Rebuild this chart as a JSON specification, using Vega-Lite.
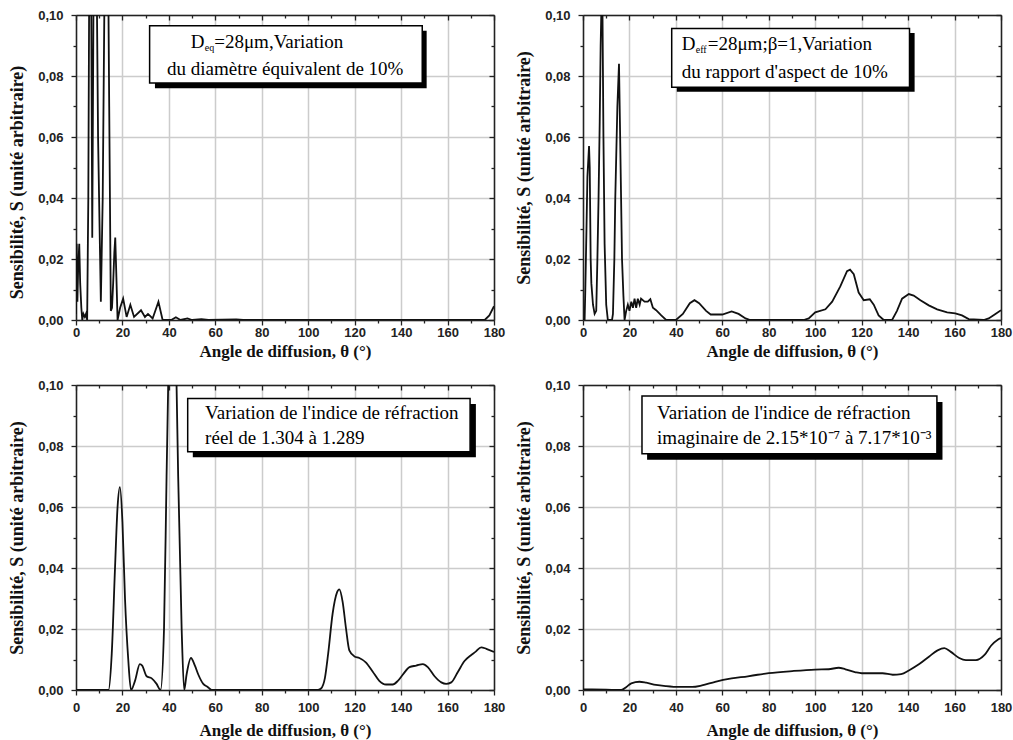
{
  "$schema": "https://vega.github.io/schema/vega-lite/v6.json",
  "background": "white",
  "padding": {"top": 9, "left": 8, "right": 5, "bottom": 5},
  "columns": 2,
  "spacing": {"row": 20, "column": 10},
  "datasets": {
    "p1": [{"t":0,"s":0.002},{"t":0.3,"s":0.025},{"t":0.6,"s":0.006},{"t":0.9,"s":0.016},{"t":1.4,"s":0.025},{"t":1.8,"s":0.012},{"t":2.3,"s":0.004},{"t":2.7,"s":0},{"t":3.2,"s":0.002},{"t":3.8,"s":0.001},{"t":4.3,"s":0.002},{"t":4.8,"s":0},{"t":5.3,"s":0.04},{"t":5.8,"s":0.13},{"t":6.4,"s":0.13},{"t":7.0,"s":0.027},{"t":7.5,"s":0.1},{"t":8.0,"s":0.16},{"t":8.7,"s":0.13},{"t":9.5,"s":0.06},{"t":10.7,"s":0.006},{"t":11.5,"s":0.04},{"t":12.3,"s":0.11},{"t":13.0,"s":0.15},{"t":13.8,"s":0.12},{"t":14.3,"s":0.07},{"t":15.0,"s":0.003},{"t":15.5,"s":0.004},{"t":16.0,"s":0.012},{"t":16.5,"s":0.022},{"t":16.9,"s":0.027},{"t":17.4,"s":0.014},{"t":17.9,"s":0},{"t":19.0,"s":0.004},{"t":20.3,"s":0.007},{"t":21.8,"s":0.001},{"t":23.4,"s":0.005},{"t":25.0,"s":0.001},{"t":28.0,"s":0.0032},{"t":29.7,"s":0.001},{"t":31.0,"s":0.002},{"t":33.0,"s":0.0005},{"t":35.5,"s":0.006},{"t":37.3,"s":0},{"t":41,"s":0},{"t":43,"s":0.0009},{"t":45,"s":0},{"t":48,"s":0.0005},{"t":50,"s":0},{"t":54,"s":0.0003},{"t":57,"s":0},{"t":69,"s":0.0002},{"t":72,"s":0},{"t":176,"s":0},{"t":178,"s":0.0015},{"t":180,"s":0.0045}],
    "p2": [{"t":0,"s":0},{"t":0.7,"s":0},{"t":1.0,"s":0.01},{"t":1.5,"s":0.03},{"t":1.9,"s":0.047},{"t":2.6,"s":0.057},{"t":2.9,"s":0.05},{"t":3.3,"s":0.02},{"t":3.6,"s":0.012},{"t":4.3,"s":0.005},{"t":5.0,"s":0.002},{"t":5.7,"s":0.003},{"t":6.2,"s":0.02},{"t":6.7,"s":0.04},{"t":7.2,"s":0.065},{"t":7.6,"s":0.09},{"t":8.0,"s":0.105},{"t":8.4,"s":0.1},{"t":8.8,"s":0.06},{"t":9.3,"s":0.025},{"t":10.0,"s":0.005},{"t":10.7,"s":0},{"t":12.5,"s":0},{"t":12.9,"s":0.002},{"t":13.5,"s":0.02},{"t":13.9,"s":0.04},{"t":14.8,"s":0.07},{"t":15.5,"s":0.084},{"t":15.9,"s":0.065},{"t":16.4,"s":0.04},{"t":16.8,"s":0.02},{"t":17.4,"s":0.008},{"t":17.9,"s":0},{"t":18.6,"s":0.003},{"t":19.3,"s":0.005},{"t":20.0,"s":0.003},{"t":20.8,"s":0.006},{"t":21.5,"s":0.004},{"t":22.2,"s":0.007},{"t":22.9,"s":0.004},{"t":23.6,"s":0.007},{"t":24.4,"s":0.005},{"t":25.0,"s":0.007},{"t":26.5,"s":0.006},{"t":27.9,"s":0.006},{"t":29.0,"s":0.0068},{"t":30.1,"s":0.004},{"t":31.5,"s":0.0032},{"t":33.7,"s":0.0015},{"t":35.8,"s":0},{"t":40,"s":0},{"t":43,"s":0.002},{"t":46,"s":0.0055},{"t":48,"s":0.0065},{"t":50,"s":0.0055},{"t":53,"s":0.003},{"t":55,"s":0.0018},{"t":60,"s":0.0018},{"t":64,"s":0.0028},{"t":67,"s":0.002},{"t":70,"s":0.0005},{"t":72,"s":0},{"t":95,"s":0},{"t":97.2,"s":0.0005},{"t":100,"s":0.0025},{"t":104.4,"s":0.0035},{"t":107.3,"s":0.006},{"t":110.8,"s":0.011},{"t":113.7,"s":0.016},{"t":115.0,"s":0.0165},{"t":116.6,"s":0.015},{"t":118.7,"s":0.009},{"t":120.9,"s":0.0065},{"t":123.5,"s":0.0068},{"t":125.2,"s":0.005},{"t":127.3,"s":0.0015},{"t":129.5,"s":0},{"t":133.1,"s":0},{"t":135.2,"s":0.003},{"t":137.4,"s":0.007},{"t":140.3,"s":0.0085},{"t":142.4,"s":0.008},{"t":145.3,"s":0.0065},{"t":148.9,"s":0.0048},{"t":152.5,"s":0.0035},{"t":156.8,"s":0.0025},{"t":160.3,"s":0.0022},{"t":163.2,"s":0.0015},{"t":166.1,"s":0.0003},{"t":172.5,"s":0},{"t":174.7,"s":0.0005},{"t":177.6,"s":0.002},{"t":180,"s":0.0032}],
    "p3": [{"t":0,"s":0},{"t":14,"s":0},{"t":15.4,"s":0.012},{"t":16.8,"s":0.04},{"t":17.9,"s":0.06},{"t":18.9,"s":0.0665},{"t":20,"s":0.055},{"t":21.1,"s":0.03},{"t":22.5,"s":0.01},{"t":23.7,"s":0},{"t":25.4,"s":0.003},{"t":27.5,"s":0.0085},{"t":28.5,"s":0.008},{"t":30.4,"s":0.0045},{"t":32.6,"s":0.0038},{"t":34.7,"s":0.002},{"t":36.4,"s":0},{"t":37.9,"s":0.02},{"t":39,"s":0.07},{"t":39.7,"s":0.1},{"t":40.5,"s":0.13},{"t":41.5,"s":0.14},{"t":42.5,"s":0.13},{"t":43.3,"s":0.1},{"t":44,"s":0.07},{"t":45.5,"s":0.02},{"t":46.6,"s":0},{"t":47.6,"s":0.005},{"t":49.5,"s":0.0105},{"t":51.2,"s":0.008},{"t":52.7,"s":0.005},{"t":54.8,"s":0.002},{"t":56.7,"s":0.001},{"t":58.4,"s":0},{"t":104,"s":0},{"t":105.5,"s":0.0005},{"t":107.2,"s":0.004},{"t":108.6,"s":0.012},{"t":110.5,"s":0.025},{"t":112.4,"s":0.032},{"t":113.4,"s":0.033},{"t":114.8,"s":0.029},{"t":116.3,"s":0.02},{"t":117.7,"s":0.013},{"t":119.9,"s":0.011},{"t":122,"s":0.0105},{"t":124.9,"s":0.009},{"t":127.8,"s":0.006},{"t":130.6,"s":0.003},{"t":133.5,"s":0.0018},{"t":136.4,"s":0.0018},{"t":138.6,"s":0.003},{"t":140.7,"s":0.005},{"t":143.6,"s":0.0075},{"t":146.5,"s":0.008},{"t":149.4,"s":0.0085},{"t":151.5,"s":0.0075},{"t":154.4,"s":0.0045},{"t":157.3,"s":0.0025},{"t":159.4,"s":0.002},{"t":161.6,"s":0.0025},{"t":164.5,"s":0.006},{"t":167.3,"s":0.0095},{"t":170.2,"s":0.0115},{"t":172,"s":0.0125},{"t":174.5,"s":0.014},{"t":176.7,"s":0.0135},{"t":180,"s":0.0125}],
    "p4": [{"t":0,"s":0.0002},{"t":10,"s":0.0001},{"t":16.5,"s":0},{"t":18.7,"s":0.001},{"t":20.8,"s":0.0022},{"t":24.3,"s":0.0027},{"t":27.2,"s":0.0024},{"t":31.4,"s":0.0017},{"t":35.6,"s":0.0013},{"t":41.3,"s":0.001},{"t":47,"s":0.001},{"t":51.2,"s":0.0015},{"t":56.9,"s":0.0027},{"t":64,"s":0.0038},{"t":71,"s":0.0045},{"t":75.2,"s":0.005},{"t":80,"s":0.0055},{"t":90.1,"s":0.0062},{"t":100,"s":0.0067},{"t":105.8,"s":0.0068},{"t":110.1,"s":0.0073},{"t":113,"s":0.0068},{"t":117.4,"s":0.0058},{"t":120,"s":0.0055},{"t":129,"s":0.0055},{"t":133.4,"s":0.005},{"t":137,"s":0.0052},{"t":140.5,"s":0.0065},{"t":144.8,"s":0.0085},{"t":149.1,"s":0.011},{"t":152.7,"s":0.013},{"t":155.6,"s":0.0137},{"t":158.4,"s":0.0125},{"t":162,"s":0.0105},{"t":164.9,"s":0.0098},{"t":169.2,"s":0.0098},{"t":172.9,"s":0.0115},{"t":175.7,"s":0.0145},{"t":178.6,"s":0.0165},{"t":180,"s":0.017}]
  },
  "concat": [
    {
      "width": 418, "height": 305,
      "resolve": {"axis": {"x": "independent", "y": "independent"}},
      "layer": [
        {"data": {"name": "p1"}, "mark": {"type": "line", "clip": true, "color": "#111", "strokeWidth": 1.8},
         "encoding": {
          "x": {"field": "t", "type": "quantitative", "scale": {"domain": [0, 180], "nice": false},
            "axis": {"orient": "bottom", "values": [0,10,20,30,40,50,60,70,80,90,100,110,120,130,140,150,160,170,180], "title": "Angle de diffusion, θ (°)", "labelExpr": "datum.value % 20 === 0 ? datum.label : ''", "labelOverlap": false, "labelFlush": false, "tickSize": {"condition": {"test": "datum.value % 20 === 0", "value": 5}, "value": 3}, "grid": true, "gridOpacity": {"condition": {"test": "datum.value % 20 === 0", "value": 1}, "value": 0}, "labelPadding": 1, "titlePadding": 4}},
          "y": {"field": "s", "type": "quantitative", "scale": {"domain": [0, 0.1], "nice": false},
            "axis": {"orient": "left", "values": [0,0.01,0.02,0.03,0.04,0.05,0.06,0.07,0.08,0.09,0.1], "title": "Sensibilité, S (unité arbitraire)", "titleFontSize": 18, "titleY": 167, "labelExpr": "round(datum.value*100) % 2 === 0 ? replace(format(datum.value, '.2f'), '.', ',') : ''", "labelOverlap": false, "labelFlush": false, "tickSize": {"condition": {"test": "round(datum.value*100) % 2 === 0", "value": 5}, "value": 3}, "grid": true, "gridOpacity": {"condition": {"test": "round(datum.value*100) % 2 === 0", "value": 1}, "value": 0}, "labelPadding": 8, "titlePadding": 11}}
         }},
        {"data": {"values": [{}]}, "mark": {"type": "rect", "fill": "#000"},
         "encoding": {
          "x": {"datum": 34, "type": "quantitative", "scale": {"domain": [0, 180], "nice": false},
            "axis": {"orient": "top", "values": [0,10,20,30,40,50,60,70,80,90,100,110,120,130,140,150,160,170,180], "labels": false, "title": null, "grid": false, "tickSize": {"condition": {"test": "datum.value % 20 === 0", "value": -5}, "value": -3}}},
          "x2": {"datum": 151},
          "y": {"datum": 0.0760, "type": "quantitative", "scale": {"domain": [0, 0.1], "nice": false},
            "axis": {"orient": "right", "values": [0,0.01,0.02,0.03,0.04,0.05,0.06,0.07,0.08,0.09,0.1], "labels": false, "title": null, "grid": false, "tickSize": {"condition": {"test": "round(datum.value*100) % 2 === 0", "value": -5}, "value": -3}}},
          "y2": {"datum": 0.0948}
         }},
        {"data": {"values": [{}]}, "mark": {"type": "rect", "fill": "#fff", "stroke": "#000", "strokeWidth": 1.5},
         "encoding": {
          "x": {"datum": 31.7, "type": "quantitative", "scale": {"domain": [0, 180], "nice": false}, "axis": null},
          "x2": {"datum": 149.1},
          "y": {"datum": 0.0777, "type": "quantitative", "scale": {"domain": [0, 0.1], "nice": false}, "axis": null},
          "y2": {"datum": 0.0965}
         }},
        {"data": {"values": [{}]}, "mark": {"type": "text", "text": "D", "align": "left", "baseline": "middle", "font": "Liberation Serif", "fontSize": 19, "color": "#000"},
         "encoding": {"x": {"datum": 49.4, "type": "quantitative", "axis": null}, "y": {"datum": 0.0911, "type": "quantitative", "axis": null}}},
        {"data": {"values": [{}]}, "mark": {"type": "text", "text": "eq", "align": "left", "baseline": "middle", "font": "Liberation Serif", "fontSize": 10, "dx": 14, "dy": 6, "color": "#000"},
         "encoding": {"x": {"datum": 49.4, "type": "quantitative", "axis": null}, "y": {"datum": 0.0911, "type": "quantitative", "axis": null}}},
        {"data": {"values": [{}]}, "mark": {"type": "text", "text": "=28μm,Variation", "align": "left", "baseline": "middle", "font": "Liberation Serif", "fontSize": 19, "dx": 23.5, "color": "#000"},
         "encoding": {"x": {"datum": 49.4, "type": "quantitative", "axis": null}, "y": {"datum": 0.0911, "type": "quantitative", "axis": null}}},
        {"data": {"values": [{}]}, "mark": {"type": "text", "text": "du diamètre équivalent de 10%", "align": "left", "baseline": "middle", "font": "Liberation Serif", "fontSize": 19, "color": "#000"},
         "encoding": {"x": {"datum": 39.2, "type": "quantitative", "axis": null}, "y": {"datum": 0.0823, "type": "quantitative", "axis": null}}}
      ]
    },
    {
      "width": 418, "height": 305,
      "resolve": {"axis": {"x": "independent", "y": "independent"}},
      "layer": [
        {"data": {"name": "p2"}, "mark": {"type": "line", "clip": true, "color": "#111", "strokeWidth": 1.8},
         "encoding": {
          "x": {"field": "t", "type": "quantitative", "scale": {"domain": [0, 180], "nice": false},
            "axis": {"orient": "bottom", "values": [0,10,20,30,40,50,60,70,80,90,100,110,120,130,140,150,160,170,180], "title": "Angle de diffusion, θ (°)", "labelExpr": "datum.value % 20 === 0 ? datum.label : ''", "labelOverlap": false, "labelFlush": false, "tickSize": {"condition": {"test": "datum.value % 20 === 0", "value": 5}, "value": 3}, "grid": true, "gridOpacity": {"condition": {"test": "datum.value % 20 === 0", "value": 1}, "value": 0}, "labelPadding": 1, "titlePadding": 4}},
          "y": {"field": "s", "type": "quantitative", "scale": {"domain": [0, 0.1], "nice": false},
            "axis": {"orient": "left", "values": [0,0.01,0.02,0.03,0.04,0.05,0.06,0.07,0.08,0.09,0.1], "title": "Sensibilité, S (unité arbitraire)", "titleFontSize": 18, "labelExpr": "round(datum.value*100) % 2 === 0 ? replace(format(datum.value, '.2f'), '.', ',') : ''", "labelOverlap": false, "labelFlush": false, "tickSize": {"condition": {"test": "round(datum.value*100) % 2 === 0", "value": 5}, "value": 3}, "grid": true, "gridOpacity": {"condition": {"test": "round(datum.value*100) % 2 === 0", "value": 1}, "value": 0}, "labelPadding": 8, "titlePadding": 11}}
         }},
        {"data": {"values": [{}]}, "mark": {"type": "rect", "fill": "#000"},
         "encoding": {
          "x": {"datum": 40.4, "type": "quantitative", "scale": {"domain": [0, 180], "nice": false},
            "axis": {"orient": "top", "values": [0,10,20,30,40,50,60,70,80,90,100,110,120,130,140,150,160,170,180], "labels": false, "title": null, "grid": false, "tickSize": {"condition": {"test": "datum.value % 20 === 0", "value": -5}, "value": -3}}},
          "x2": {"datum": 142.8},
          "y": {"datum": 0.0748, "type": "quantitative", "scale": {"domain": [0, 0.1], "nice": false},
            "axis": {"orient": "right", "values": [0,0.01,0.02,0.03,0.04,0.05,0.06,0.07,0.08,0.09,0.1], "labels": false, "title": null, "grid": false, "tickSize": {"condition": {"test": "round(datum.value*100) % 2 === 0", "value": -5}, "value": -3}}},
          "y2": {"datum": 0.0941}
         }},
        {"data": {"values": [{}]}, "mark": {"type": "rect", "fill": "#fff", "stroke": "#000", "strokeWidth": 1.5},
         "encoding": {
          "x": {"datum": 38.2, "type": "quantitative", "scale": {"domain": [0, 180], "nice": false}, "axis": null},
          "x2": {"datum": 140.6},
          "y": {"datum": 0.0763, "type": "quantitative", "scale": {"domain": [0, 0.1], "nice": false}, "axis": null},
          "y2": {"datum": 0.0956}
         }},
        {"data": {"values": [{}]}, "mark": {"type": "text", "text": "D", "align": "left", "baseline": "middle", "font": "Liberation Serif", "fontSize": 19, "color": "#000"},
         "encoding": {"x": {"datum": 42.5, "type": "quantitative", "axis": null}, "y": {"datum": 0.0905, "type": "quantitative", "axis": null}}},
        {"data": {"values": [{}]}, "mark": {"type": "text", "text": "eff", "align": "left", "baseline": "middle", "font": "Liberation Serif", "fontSize": 10, "dx": 14, "dy": 6, "color": "#000"},
         "encoding": {"x": {"datum": 42.5, "type": "quantitative", "axis": null}, "y": {"datum": 0.0905, "type": "quantitative", "axis": null}}},
        {"data": {"values": [{}]}, "mark": {"type": "text", "text": "=28μm;β=1,Variation", "align": "left", "baseline": "middle", "font": "Liberation Serif", "fontSize": 19, "dx": 26, "color": "#000"},
         "encoding": {"x": {"datum": 42.5, "type": "quantitative", "axis": null}, "y": {"datum": 0.0905, "type": "quantitative", "axis": null}}},
        {"data": {"values": [{}]}, "mark": {"type": "text", "text": "du rapport d'aspect de 10%", "align": "left", "baseline": "middle", "font": "Liberation Serif", "fontSize": 19, "color": "#000"},
         "encoding": {"x": {"datum": 42.5, "type": "quantitative", "axis": null}, "y": {"datum": 0.0814, "type": "quantitative", "axis": null}}}
      ]
    },
    {
      "width": 418, "height": 305,
      "resolve": {"axis": {"x": "independent", "y": "independent"}},
      "layer": [
        {"data": {"name": "p3"}, "mark": {"type": "line", "clip": true, "color": "#111", "strokeWidth": 1.8, "interpolate": "monotone"},
         "encoding": {
          "x": {"field": "t", "type": "quantitative", "scale": {"domain": [0, 180], "nice": false},
            "axis": {"orient": "bottom", "values": [0,10,20,30,40,50,60,70,80,90,100,110,120,130,140,150,160,170,180], "title": "Angle de diffusion, θ (°)", "labelExpr": "datum.value % 20 === 0 ? datum.label : ''", "labelOverlap": false, "labelFlush": false, "tickSize": {"condition": {"test": "datum.value % 20 === 0", "value": 5}, "value": 3}, "grid": true, "gridOpacity": {"condition": {"test": "datum.value % 20 === 0", "value": 1}, "value": 0}, "labelPadding": 6, "titlePadding": 8}},
          "y": {"field": "s", "type": "quantitative", "scale": {"domain": [0, 0.1], "nice": false},
            "axis": {"orient": "left", "values": [0,0.01,0.02,0.03,0.04,0.05,0.06,0.07,0.08,0.09,0.1], "title": "Sensibilité, S (unité arbitraire)", "titleFontSize": 18, "labelExpr": "round(datum.value*100) % 2 === 0 ? replace(format(datum.value, '.2f'), '.', ',') : ''", "labelOverlap": false, "labelFlush": false, "tickSize": {"condition": {"test": "round(datum.value*100) % 2 === 0", "value": 5}, "value": 3}, "grid": true, "gridOpacity": {"condition": {"test": "round(datum.value*100) % 2 === 0", "value": 1}, "value": 0}, "labelPadding": 8, "titlePadding": 11}}
         }},
        {"data": {"values": [{}]}, "mark": {"type": "rect", "fill": "#000"},
         "encoding": {
          "x": {"datum": 50.3, "type": "quantitative", "scale": {"domain": [0, 180], "nice": false},
            "axis": {"orient": "top", "values": [0,10,20,30,40,50,60,70,80,90,100,110,120,130,140,150,160,170,180], "labels": false, "title": null, "grid": false, "tickSize": {"condition": {"test": "datum.value % 20 === 0", "value": -5}, "value": -3}}},
          "x2": {"datum": 172.2},
          "y": {"datum": 0.0763, "type": "quantitative", "scale": {"domain": [0, 0.1], "nice": false},
            "axis": {"orient": "right", "values": [0,0.01,0.02,0.03,0.04,0.05,0.06,0.07,0.08,0.09,0.1], "labels": false, "title": null, "grid": false, "tickSize": {"condition": {"test": "round(datum.value*100) % 2 === 0", "value": -5}, "value": -3}}},
          "y2": {"datum": 0.0938}
         }},
        {"data": {"values": [{}]}, "mark": {"type": "rect", "fill": "#fff", "stroke": "#000", "strokeWidth": 1.5},
         "encoding": {
          "x": {"datum": 48.1, "type": "quantitative", "scale": {"domain": [0, 180], "nice": false}, "axis": null},
          "x2": {"datum": 169.7},
          "y": {"datum": 0.0781, "type": "quantitative", "scale": {"domain": [0, 0.1], "nice": false}, "axis": null},
          "y2": {"datum": 0.0956}
         }},
        {"data": {"values": [{}]}, "mark": {"type": "text", "text": "Variation de l'indice de réfraction", "align": "left", "baseline": "middle", "font": "Liberation Serif", "fontSize": 19, "color": "#000"},
         "encoding": {"x": {"datum": 55.6, "type": "quantitative", "axis": null}, "y": {"datum": 0.0909, "type": "quantitative", "axis": null}}},
        {"data": {"values": [{}]}, "mark": {"type": "text", "text": "réel de 1.304 à 1.289", "align": "left", "baseline": "middle", "font": "Liberation Serif", "fontSize": 19, "color": "#000"},
         "encoding": {"x": {"datum": 55.6, "type": "quantitative", "axis": null}, "y": {"datum": 0.0825, "type": "quantitative", "axis": null}}}
      ]
    },
    {
      "width": 418, "height": 305,
      "resolve": {"axis": {"x": "independent", "y": "independent"}},
      "layer": [
        {"data": {"name": "p4"}, "mark": {"type": "line", "clip": true, "color": "#111", "strokeWidth": 1.8, "interpolate": "monotone"},
         "encoding": {
          "x": {"field": "t", "type": "quantitative", "scale": {"domain": [0, 180], "nice": false},
            "axis": {"orient": "bottom", "values": [0,10,20,30,40,50,60,70,80,90,100,110,120,130,140,150,160,170,180], "title": "Angle de diffusion, θ (°)", "labelExpr": "datum.value % 20 === 0 ? datum.label : ''", "labelOverlap": false, "labelFlush": false, "tickSize": {"condition": {"test": "datum.value % 20 === 0", "value": 5}, "value": 3}, "grid": true, "gridOpacity": {"condition": {"test": "datum.value % 20 === 0", "value": 1}, "value": 0}, "labelPadding": 6, "titlePadding": 8}},
          "y": {"field": "s", "type": "quantitative", "scale": {"domain": [0, 0.1], "nice": false},
            "axis": {"orient": "left", "values": [0,0.01,0.02,0.03,0.04,0.05,0.06,0.07,0.08,0.09,0.1], "title": "Sensibilité, S (unité arbitraire)", "titleFontSize": 18, "labelExpr": "round(datum.value*100) % 2 === 0 ? replace(format(datum.value, '.2f'), '.', ',') : ''", "labelOverlap": false, "labelFlush": false, "tickSize": {"condition": {"test": "round(datum.value*100) % 2 === 0", "value": 5}, "value": 3}, "grid": true, "gridOpacity": {"condition": {"test": "round(datum.value*100) % 2 === 0", "value": 1}, "value": 0}, "labelPadding": 8, "titlePadding": 11}}
         }},
        {"data": {"values": [{}]}, "mark": {"type": "rect", "fill": "#000"},
         "encoding": {
          "x": {"datum": 27.6, "type": "quantitative", "scale": {"domain": [0, 180], "nice": false},
            "axis": {"orient": "top", "values": [0,10,20,30,40,50,60,70,80,90,100,110,120,130,140,150,160,170,180], "labels": false, "title": null, "grid": false, "tickSize": {"condition": {"test": "datum.value % 20 === 0", "value": -5}, "value": -3}}},
          "x2": {"datum": 154.8},
          "y": {"datum": 0.0755, "type": "quantitative", "scale": {"domain": [0, 0.1], "nice": false},
            "axis": {"orient": "right", "values": [0,0.01,0.02,0.03,0.04,0.05,0.06,0.07,0.08,0.09,0.1], "labels": false, "title": null, "grid": false, "tickSize": {"condition": {"test": "round(datum.value*100) % 2 === 0", "value": -5}, "value": -3}}},
          "y2": {"datum": 0.0944}
         }},
        {"data": {"values": [{}]}, "mark": {"type": "rect", "fill": "#fff", "stroke": "#000", "strokeWidth": 1.5},
         "encoding": {
          "x": {"datum": 25.4, "type": "quantitative", "scale": {"domain": [0, 180], "nice": false}, "axis": null},
          "x2": {"datum": 152.4},
          "y": {"datum": 0.0775, "type": "quantitative", "scale": {"domain": [0, 0.1], "nice": false}, "axis": null},
          "y2": {"datum": 0.0964}
         }},
        {"data": {"values": [{}]}, "mark": {"type": "text", "text": "Variation de l'indice de réfraction", "align": "left", "baseline": "middle", "font": "Liberation Serif", "fontSize": 19, "color": "#000"},
         "encoding": {"x": {"datum": 31.9, "type": "quantitative", "axis": null}, "y": {"datum": 0.0909, "type": "quantitative", "axis": null}}},
        {"data": {"values": [{}]}, "mark": {"type": "text", "text": "imaginaire de 2.15*10⁻⁷ à 7.17*10⁻³", "align": "left", "baseline": "middle", "font": "Liberation Serif", "fontSize": 19, "color": "#000"},
         "encoding": {"x": {"datum": 31.9, "type": "quantitative", "axis": null}, "y": {"datum": 0.0825, "type": "quantitative", "axis": null}}}
      ]
    }
  ],
  "config": {
    "view": {"stroke": null},
    "axis": {
      "domainColor": "#222", "domainWidth": 1.5, "tickColor": "#222", "tickWidth": 1.3,
      "labelFont": "Liberation Sans", "labelFontWeight": "bold", "labelFontSize": 13, "labelColor": "#222",
      "titleFont": "Liberation Serif", "titleFontWeight": "bold", "titleFontSize": 17, "titleColor": "#111",
      "gridColor": "#cccccc", "gridWidth": 1.5
    }
  }
}
